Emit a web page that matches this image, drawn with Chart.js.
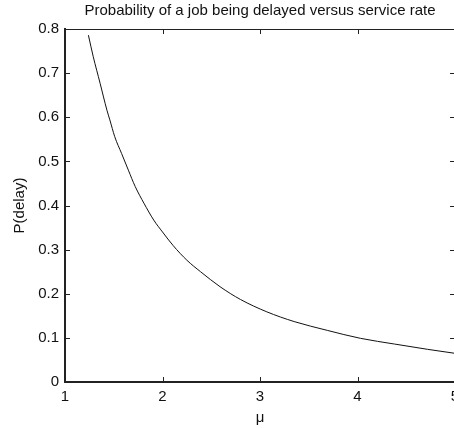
<!DOCTYPE html>
<html>
<head>
<meta charset="utf-8">
<script src="https://cdn.jsdelivr.net/npm/chart.js@4/dist/chart.umd.min.js"></script>
<style>
  html, body { margin: 0; padding: 0; background: #fff; overflow: hidden; }
  #wrap { width: 454px; height: 428px; overflow: hidden; }
</style>
</head>
<body>
<div id="wrap"><canvas id="chart" width="480" height="428"></canvas></div>
<script>
// service rate mu and probability that a job has to wait
const mu = [1.24, 1.29, 1.36, 1.43, 1.46, 1.51, 1.58, 1.65, 1.72, 1.81, 1.91, 2.00,
            2.11, 2.25, 2.39, 2.59, 2.80, 3.07, 3.35, 3.69, 4.03, 4.38, 4.72, 5.00];
const pDelay = [0.786, 0.737, 0.677, 0.616, 0.594, 0.556, 0.518, 0.480, 0.443, 0.405, 0.367, 0.340,
                0.309, 0.276, 0.250, 0.216, 0.187, 0.159, 0.137, 0.117, 0.099, 0.086, 0.074, 0.065];

const xTicks = [1, 2, 3, 4, 5];
const yTicks = [0, 0.1, 0.2, 0.3, 0.4, 0.5, 0.6, 0.7, 0.8];

const FONT = 'Liberation Sans, Arial, sans-serif';
const INK = '#222';

// box around the axes plus inward ticks on every side
const frame = {
    id: 'frame',
    afterDraw(chart) {
        const { ctx, chartArea: a, scales: { x, y } } = chart;
        ctx.save();
        ctx.strokeStyle = INK;
        ctx.lineWidth = 1;
        ctx.beginPath();
        ctx.moveTo(a.left, a.top + 0.5);
        ctx.lineTo(a.right, a.top + 0.5);
        ctx.moveTo(a.right - 0.5, a.top);
        ctx.lineTo(a.right - 0.5, a.bottom);
        xTicks.slice(1, -1).forEach(v => {
            const px = Math.round(x.getPixelForValue(v)) + 0.5;
            ctx.moveTo(px, a.bottom);
            ctx.lineTo(px, a.bottom - 5);
            ctx.moveTo(px, a.top);
            ctx.lineTo(px, a.top + 5);
        });
        yTicks.slice(1, -1).forEach(v => {
            const py = Math.round(y.getPixelForValue(v)) + 0.5;
            ctx.moveTo(a.left, py);
            ctx.lineTo(a.left + 5, py);
            ctx.moveTo(a.right, py);
            ctx.lineTo(a.right - 5, py);
        });
        ctx.stroke();
        ctx.restore();
    }
};

const ctx = document.getElementById('chart').getContext('2d');
new Chart(ctx, {
    type: 'line',
    data: {
        datasets: [{
            label: 'P(delay)',
            data: mu.map((m, i) => ({ x: m, y: pDelay[i] })),
            borderColor: '#111',
            borderWidth: 1,
            pointRadius: 0,
            fill: false,
            cubicInterpolationMode: 'monotone'
        }]
    },
    options: {
        responsive: false,
        animation: false,
        layout: { padding: { left: 0, right: 25, top: 0, bottom: 0 } },
        plugins: {
            legend: { display: false },
            tooltip: { enabled: false },
            title: {
                display: true,
                fullSize: false,
                text: 'Probability of a job being delayed versus service rate',
                color: '#111',
                font: { family: FONT, size: 15, weight: 'normal' },
                padding: { top: 2, bottom: 9 }
            }
        },
        scales: {
            x: {
                type: 'linear',
                min: 1,
                max: 5,
                afterFit: s => { s.height = 46; },
                afterBuildTicks: s => { s.ticks = xTicks.map(v => ({ value: v })); },
                grid: { display: false, drawTicks: false },
                border: { display: true, color: INK, width: 2 },
                ticks: { color: '#111', padding: 6, font: { family: FONT, size: 15 } },
                title: {
                    display: true,
                    text: 'μ',
                    color: '#111',
                    font: { family: FONT, size: 15 },
                    padding: { top: 0, bottom: 1 }
                }
            },
            y: {
                min: 0,
                max: 0.8,
                afterFit: s => { s.width = 65; },
                afterBuildTicks: s => { s.ticks = yTicks.map(v => ({ value: v })); },
                grid: { display: false, drawTicks: false },
                border: { display: true, color: INK, width: 2 },
                ticks: { color: '#111', padding: 6, font: { family: FONT, size: 15 } },
                title: {
                    display: true,
                    text: 'P(delay)',
                    color: '#111',
                    font: { family: FONT, size: 15 },
                    padding: { top: 11, bottom: 0 }
                }
            }
        }
    },
    plugins: [frame]
});
</script>
</body>
</html>
